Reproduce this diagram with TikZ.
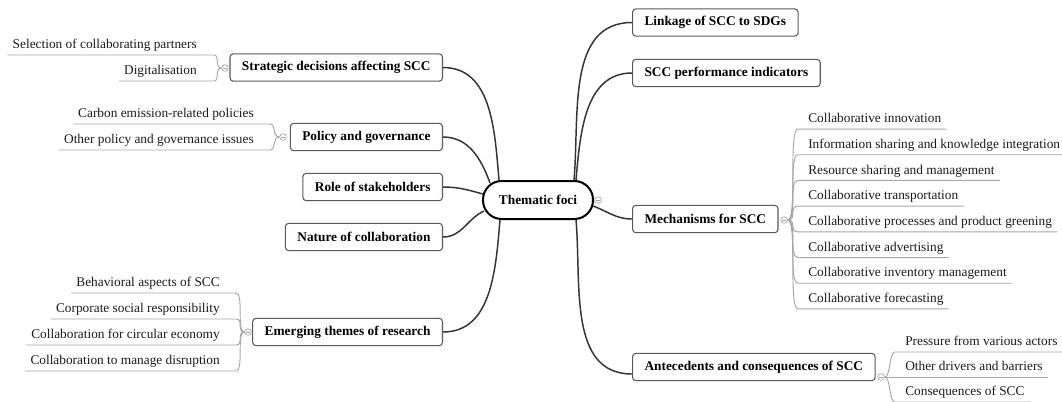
\documentclass[tikz,border=0pt]{standalone}
\usepackage{fontspec}
\setmainfont{Liberation Serif}
\usetikzlibrary{calc}

\begin{document}
\begin{tikzpicture}[x=0.75pt,y=-0.75pt,
	topic/.style={draw=black!65,line width=0.8pt,rounded corners=2.5pt,font=\bfseries,inner xsep=9pt,minimum height=20.5pt},
	root/.style={draw=black,line width=1.5pt,rounded corners=14pt,font=\bfseries,minimum width=82.5pt,minimum height=28.5pt},
	branch/.style={draw=black!80,line width=1.1pt},
	twig/.style={draw=black!35,line width=0.7pt},
	leaf/.style={inner xsep=3.75pt,inner ysep=2pt,text depth=.25em,text=black!90},
	knob/.style={circle,draw=black!35,fill=white,line width=0.5pt,inner sep=0pt,minimum size=5pt,
		path picture={\draw[black!35,line width=0.4pt] ([xshift=-1.5pt]path picture bounding box.center)--([xshift=1.5pt]path picture bounding box.center);}}]
		
		\clip (0,0) rectangle (1062,401);
		
		% 中心主题
		\node[root] (foci) at (538,200) {Thematic foci};
		
		% 左侧分支
		\node[topic,anchor=east] (strat) at (443,67.5) {Strategic decisions affecting SCC};
		\node[topic,anchor=east] (policy) at (443,137) {Policy and governance};
		\node[topic,anchor=east] (role) at (443,187) {Role of stakeholders};
		\node[topic,anchor=east] (nature) at (443,237) {Nature of collaboration};
		\node[topic,anchor=east] (emerg) at (443,332) {Emerging themes of research};
		
		% 右侧分支
		\node[topic,anchor=west] (link) at (632,22.5) {Linkage of SCC to SDGs};
		\node[topic,anchor=west] (perf) at (632,73) {SCC performance indicators};
		\node[topic,anchor=west] (mech) at (632,219) {Mechanisms for SCC};
		\node[topic,anchor=west] (ante) at (632,367) {Antecedents and consequences of SCC};
		
		% 主干连线
		\draw[branch] ($(foci.north)+(-39,0)$) to[out=95,in=0] (strat.east);
		\draw[branch] ($(foci.north west)+(8,3)$) to[out=110,in=0] (policy.east);
		\draw[branch] ($(foci.west)+(1,-6)$) to[out=165,in=0] (role.east);
		\draw[branch] ($(foci.west)+(2,11)$) to[out=205,in=0] (nature.east);
		\draw[branch] ($(foci.south)+(-38,0)$) to[out=265,in=0] (emerg.east);
		\draw[branch] ($(foci.north)+(36,0)$) to[out=85,in=180] (link.west);
		\draw[branch] ($(foci.north)+(38,0)$) to[out=85,in=180] (perf.west);
		\draw[branch] ($(foci.east)+(-1,6)$) to[out=-20,in=180] (mech.west);
		\draw[branch] ($(foci.south)+(38,0)$) to[out=275,in=180] ($(ante.west)+(0,7)$);
		
		% 折叠按钮
		\node[knob] (fociknob) at (598,200) {};
		\node[knob] (stratknob) at (225,68) {};
		\node[knob] (polknob) at (283,137) {};
		\node[knob] (emknob) at (248,332) {};
		\node[knob] (mechknob) at (784,220) {};
		\node[knob] (anteknob) at (881,377) {};
		
		% 子主题
		\foreach \t/\yy [count=\i] in {Selection of collaborating partners/55, Digitalisation/81}{
			\node[leaf,anchor=south east] (sd\i) at (202,\yy) {\t};
			\draw[twig] (stratknob.west) .. controls +(-7,0) and +(6,0) .. (214,\yy) -- (sd\i.south west);
		}
		\foreach \t/\yy [count=\i] in {Carbon emission-related policies/124, Other policy and governance issues/150}{
			\node[leaf,anchor=south east] (pg\i) at (259,\yy) {\t};
			\draw[twig] (polknob.west) .. controls +(-7,0) and +(6,0) .. (270,\yy) -- (pg\i.south west);
		}
		\foreach \t/\yy [count=\i] in {Behavioral aspects of SCC/293, Corporate social responsibility/319,
			Collaboration for circular economy/345, Collaboration to manage disruption/371}{
			\node[leaf,anchor=south east] (em\i) at (225,\yy) {\t};
			\draw[twig] (emknob.west) .. controls +(-8,0) and +(8,0) .. (236,\yy) -- (em\i.south west);
		}
		\foreach \t [count=\i] in {Collaborative innovation, Information sharing and knowledge integration,
			Resource sharing and management, Collaborative transportation,
			Collaborative processes and product greening, Collaborative advertising,
			Collaborative inventory management, Collaborative forecasting}{
			\pgfmathsetmacro\yy{129.05+25.7*(\i-1)}
			\node[leaf,anchor=south west] (mc\i) at (803,\yy) {\t};
			\draw[twig] (mechknob.east) .. controls +(10,0) and +(-10,0) .. (798,\yy) -- (mc\i.south east);
		}
		\foreach \t [count=\i] in {Pressure from various actors, Other drivers and barriers, Consequences of SCC}{
			\pgfmathsetmacro\yy{352+25*(\i-1)}
			\node[leaf,anchor=south west] (ac\i) at (900,\yy) {\t};
			\draw[twig] (anteknob.east) .. controls +(6,0) and +(-6,0) .. (895,\yy) -- (ac\i.south east);
		}
		
	\end{tikzpicture}
\end{document}
